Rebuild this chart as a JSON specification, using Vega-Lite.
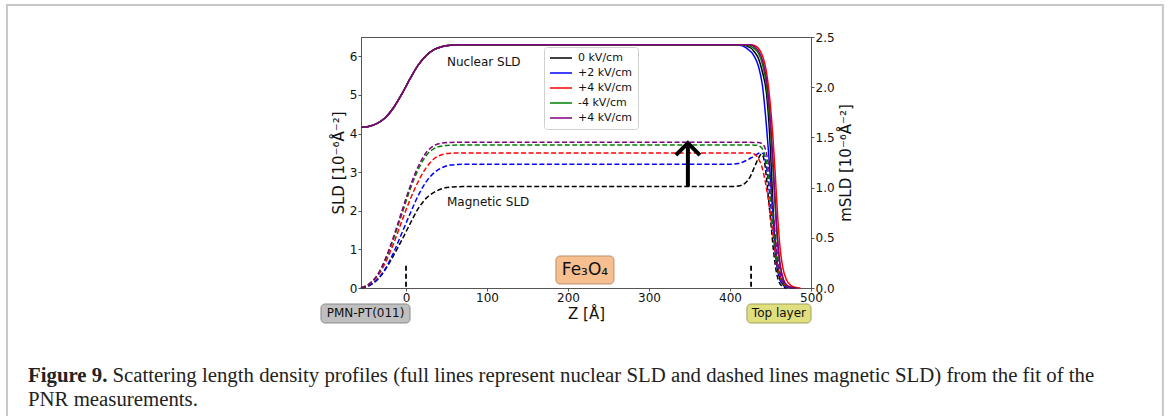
{
"$schema":"https://vega.github.io/schema/vega-lite/v6.json",
"width":450,"height":251,
"autosize":{"type":"none"},
"padding":{"left":361,"top":37,"right":359,"bottom":128},
"background":"white",
"config":{
 "font":"DejaVu Sans",
 "view":{"stroke":"#555","strokeWidth":1},
 "axis":{"grid":false,"domainColor":"#555","tickColor":"#555","labelColor":"#111","titleColor":"#111","labelFont":"DejaVu Sans","titleFont":"DejaVu Sans","labelFontSize":12,"titleFontSize":15,"titleFontWeight":"normal","tickSize":3,"labelPadding":1}
},
"datasets":{
 "nuc":[
  {"s":"0 kV/cm","z":-55.6,"v":4.16},{"s":"0 kV/cm","z":-45,"v":4.19},{"s":"0 kV/cm","z":-35,"v":4.27},{"s":"0 kV/cm","z":-25,"v":4.42},{"s":"0 kV/cm","z":-15,"v":4.68},{"s":"0 kV/cm","z":-5,"v":5.03},{"s":"0 kV/cm","z":5,"v":5.42},{"s":"0 kV/cm","z":15,"v":5.77},{"s":"0 kV/cm","z":25,"v":6.02},{"s":"0 kV/cm","z":35,"v":6.18},{"s":"0 kV/cm","z":45,"v":6.255},{"s":"0 kV/cm","z":55,"v":6.287},{"s":"0 kV/cm","z":65,"v":6.298},{"s":"0 kV/cm","z":80,"v":6.3},
  {"s":"0 kV/cm","z":400,"v":6.3},{"s":"0 kV/cm","z":410,"v":6.3},{"s":"0 kV/cm","z":420,"v":6.27},{"s":"0 kV/cm","z":430,"v":6.12},{"s":"0 kV/cm","z":435,"v":5.95},{"s":"0 kV/cm","z":440,"v":5.6},{"s":"0 kV/cm","z":445,"v":5.05},{"s":"0 kV/cm","z":448,"v":4.3},{"s":"0 kV/cm","z":451,"v":3.1},{"s":"0 kV/cm","z":454,"v":1.7},{"s":"0 kV/cm","z":457,"v":0.75},{"s":"0 kV/cm","z":460,"v":0.35},{"s":"0 kV/cm","z":465,"v":0.1},{"s":"0 kV/cm","z":470,"v":0.03},{"s":"0 kV/cm","z":475,"v":0.01},{"s":"0 kV/cm","z":480,"v":0},
  {"s":"+2 kV/cm","z":-55.6,"v":4.16},{"s":"+2 kV/cm","z":-45,"v":4.19},{"s":"+2 kV/cm","z":-35,"v":4.27},{"s":"+2 kV/cm","z":-25,"v":4.42},{"s":"+2 kV/cm","z":-15,"v":4.68},{"s":"+2 kV/cm","z":-5,"v":5.03},{"s":"+2 kV/cm","z":5,"v":5.42},{"s":"+2 kV/cm","z":15,"v":5.77},{"s":"+2 kV/cm","z":25,"v":6.02},{"s":"+2 kV/cm","z":35,"v":6.18},{"s":"+2 kV/cm","z":45,"v":6.255},{"s":"+2 kV/cm","z":55,"v":6.287},{"s":"+2 kV/cm","z":65,"v":6.298},{"s":"+2 kV/cm","z":80,"v":6.3},
  {"s":"+2 kV/cm","z":400,"v":6.3},{"s":"+2 kV/cm","z":410,"v":6.29},{"s":"+2 kV/cm","z":420,"v":6.22},{"s":"+2 kV/cm","z":430,"v":6.0},{"s":"+2 kV/cm","z":435,"v":5.75},{"s":"+2 kV/cm","z":440,"v":5.25},{"s":"+2 kV/cm","z":445,"v":4.2},{"s":"+2 kV/cm","z":448,"v":3.4},{"s":"+2 kV/cm","z":451,"v":2.5},{"s":"+2 kV/cm","z":454,"v":1.6},{"s":"+2 kV/cm","z":457,"v":0.9},{"s":"+2 kV/cm","z":460,"v":0.45},{"s":"+2 kV/cm","z":465,"v":0.15},{"s":"+2 kV/cm","z":470,"v":0.05},{"s":"+2 kV/cm","z":475,"v":0.015},{"s":"+2 kV/cm","z":480,"v":0},
  {"s":"+4 kV/cm","z":-55.6,"v":4.16},{"s":"+4 kV/cm","z":-45,"v":4.19},{"s":"+4 kV/cm","z":-35,"v":4.27},{"s":"+4 kV/cm","z":-25,"v":4.42},{"s":"+4 kV/cm","z":-15,"v":4.68},{"s":"+4 kV/cm","z":-5,"v":5.03},{"s":"+4 kV/cm","z":5,"v":5.42},{"s":"+4 kV/cm","z":15,"v":5.77},{"s":"+4 kV/cm","z":25,"v":6.02},{"s":"+4 kV/cm","z":35,"v":6.18},{"s":"+4 kV/cm","z":45,"v":6.255},{"s":"+4 kV/cm","z":55,"v":6.287},{"s":"+4 kV/cm","z":65,"v":6.298},{"s":"+4 kV/cm","z":80,"v":6.3},
  {"s":"+4 kV/cm","z":400,"v":6.3},{"s":"+4 kV/cm","z":425,"v":6.3},{"s":"+4 kV/cm","z":430,"v":6.28},{"s":"+4 kV/cm","z":435,"v":6.21},{"s":"+4 kV/cm","z":440,"v":6.02},{"s":"+4 kV/cm","z":445,"v":5.6},{"s":"+4 kV/cm","z":450,"v":4.7},{"s":"+4 kV/cm","z":453,"v":3.9},{"s":"+4 kV/cm","z":456,"v":2.9},{"s":"+4 kV/cm","z":459,"v":1.8},{"s":"+4 kV/cm","z":462,"v":1.0},{"s":"+4 kV/cm","z":465,"v":0.55},{"s":"+4 kV/cm","z":470,"v":0.2},{"s":"+4 kV/cm","z":475,"v":0.07},{"s":"+4 kV/cm","z":480,"v":0.02},{"s":"+4 kV/cm","z":487,"v":0},
  {"s":"-4 kV/cm","z":-55.6,"v":4.16},{"s":"-4 kV/cm","z":-45,"v":4.19},{"s":"-4 kV/cm","z":-35,"v":4.27},{"s":"-4 kV/cm","z":-25,"v":4.42},{"s":"-4 kV/cm","z":-15,"v":4.68},{"s":"-4 kV/cm","z":-5,"v":5.03},{"s":"-4 kV/cm","z":5,"v":5.42},{"s":"-4 kV/cm","z":15,"v":5.77},{"s":"-4 kV/cm","z":25,"v":6.02},{"s":"-4 kV/cm","z":35,"v":6.18},{"s":"-4 kV/cm","z":45,"v":6.255},{"s":"-4 kV/cm","z":55,"v":6.287},{"s":"-4 kV/cm","z":65,"v":6.298},{"s":"-4 kV/cm","z":80,"v":6.3},
  {"s":"-4 kV/cm","z":400,"v":6.3},{"s":"-4 kV/cm","z":420,"v":6.29},{"s":"-4 kV/cm","z":430,"v":6.2},{"s":"-4 kV/cm","z":435,"v":6.08},{"s":"-4 kV/cm","z":440,"v":5.8},{"s":"-4 kV/cm","z":445,"v":5.25},{"s":"-4 kV/cm","z":450,"v":4.1},{"s":"-4 kV/cm","z":453,"v":3.1},{"s":"-4 kV/cm","z":456,"v":2.0},{"s":"-4 kV/cm","z":459,"v":1.1},{"s":"-4 kV/cm","z":462,"v":0.55},{"s":"-4 kV/cm","z":466,"v":0.2},{"s":"-4 kV/cm","z":470,"v":0.07},{"s":"-4 kV/cm","z":475,"v":0.02},{"s":"-4 kV/cm","z":482,"v":0},
  {"s":"+4 kV/cm #2","z":-55.6,"v":4.16},{"s":"+4 kV/cm #2","z":-45,"v":4.19},{"s":"+4 kV/cm #2","z":-35,"v":4.27},{"s":"+4 kV/cm #2","z":-25,"v":4.42},{"s":"+4 kV/cm #2","z":-15,"v":4.68},{"s":"+4 kV/cm #2","z":-5,"v":5.03},{"s":"+4 kV/cm #2","z":5,"v":5.42},{"s":"+4 kV/cm #2","z":15,"v":5.77},{"s":"+4 kV/cm #2","z":25,"v":6.02},{"s":"+4 kV/cm #2","z":35,"v":6.18},{"s":"+4 kV/cm #2","z":45,"v":6.255},{"s":"+4 kV/cm #2","z":55,"v":6.287},{"s":"+4 kV/cm #2","z":65,"v":6.298},{"s":"+4 kV/cm #2","z":80,"v":6.3},
  {"s":"+4 kV/cm #2","z":400,"v":6.3},{"s":"+4 kV/cm #2","z":425,"v":6.3},{"s":"+4 kV/cm #2","z":430,"v":6.25},{"s":"+4 kV/cm #2","z":435,"v":6.14},{"s":"+4 kV/cm #2","z":440,"v":5.9},{"s":"+4 kV/cm #2","z":445,"v":5.4},{"s":"+4 kV/cm #2","z":450,"v":4.3},{"s":"+4 kV/cm #2","z":453,"v":3.3},{"s":"+4 kV/cm #2","z":456,"v":2.2},{"s":"+4 kV/cm #2","z":459,"v":1.2},{"s":"+4 kV/cm #2","z":462,"v":0.6},{"s":"+4 kV/cm #2","z":466,"v":0.22},{"s":"+4 kV/cm #2","z":470,"v":0.08},{"s":"+4 kV/cm #2","z":475,"v":0.02},{"s":"+4 kV/cm #2","z":482,"v":0}
 ],
 "mag":[
  {"s":"0 kV/cm","z":-55.6,"v":0},{"s":"0 kV/cm","z":-45,"v":0.025},{"s":"0 kV/cm","z":-35,"v":0.085},{"s":"0 kV/cm","z":-25,"v":0.19},{"s":"0 kV/cm","z":-15,"v":0.33},{"s":"0 kV/cm","z":-5,"v":0.48},{"s":"0 kV/cm","z":5,"v":0.64},{"s":"0 kV/cm","z":15,"v":0.79},{"s":"0 kV/cm","z":25,"v":0.895},{"s":"0 kV/cm","z":35,"v":0.955},{"s":"0 kV/cm","z":45,"v":0.99},{"s":"0 kV/cm","z":55,"v":1.005},{"s":"0 kV/cm","z":70,"v":1.01},
  {"s":"0 kV/cm","z":400,"v":1.01},{"s":"0 kV/cm","z":410,"v":1.015},{"s":"0 kV/cm","z":418,"v":1.04},{"s":"0 kV/cm","z":425,"v":1.11},{"s":"0 kV/cm","z":430,"v":1.2},{"s":"0 kV/cm","z":435,"v":1.29},{"s":"0 kV/cm","z":439,"v":1.335},{"s":"0 kV/cm","z":442,"v":1.28},{"s":"0 kV/cm","z":445,"v":1.1},{"s":"0 kV/cm","z":448,"v":0.85},{"s":"0 kV/cm","z":451,"v":0.6},{"s":"0 kV/cm","z":454,"v":0.35},{"s":"0 kV/cm","z":457,"v":0.17},{"s":"0 kV/cm","z":460,"v":0.07},{"s":"0 kV/cm","z":464,"v":0.02},{"s":"0 kV/cm","z":470,"v":0},
  {"s":"+2 kV/cm","z":-55.6,"v":0},{"s":"+2 kV/cm","z":-45,"v":0.03},{"s":"+2 kV/cm","z":-35,"v":0.09},{"s":"+2 kV/cm","z":-25,"v":0.2},{"s":"+2 kV/cm","z":-15,"v":0.36},{"s":"+2 kV/cm","z":-5,"v":0.55},{"s":"+2 kV/cm","z":5,"v":0.74},{"s":"+2 kV/cm","z":15,"v":0.92},{"s":"+2 kV/cm","z":25,"v":1.06},{"s":"+2 kV/cm","z":35,"v":1.15},{"s":"+2 kV/cm","z":45,"v":1.2},{"s":"+2 kV/cm","z":55,"v":1.225},{"s":"+2 kV/cm","z":70,"v":1.232},
  {"s":"+2 kV/cm","z":400,"v":1.232},{"s":"+2 kV/cm","z":410,"v":1.24},{"s":"+2 kV/cm","z":420,"v":1.27},{"s":"+2 kV/cm","z":430,"v":1.315},{"s":"+2 kV/cm","z":437,"v":1.345},{"s":"+2 kV/cm","z":441,"v":1.34},{"s":"+2 kV/cm","z":444,"v":1.25},{"s":"+2 kV/cm","z":447,"v":1.08},{"s":"+2 kV/cm","z":450,"v":0.85},{"s":"+2 kV/cm","z":453,"v":0.6},{"s":"+2 kV/cm","z":456,"v":0.36},{"s":"+2 kV/cm","z":459,"v":0.18},{"s":"+2 kV/cm","z":462,"v":0.08},{"s":"+2 kV/cm","z":466,"v":0.025},{"s":"+2 kV/cm","z":472,"v":0},
  {"s":"+4 kV/cm","z":-55.6,"v":0},{"s":"+4 kV/cm","z":-45,"v":0.04},{"s":"+4 kV/cm","z":-35,"v":0.12},{"s":"+4 kV/cm","z":-25,"v":0.26},{"s":"+4 kV/cm","z":-15,"v":0.45},{"s":"+4 kV/cm","z":-5,"v":0.67},{"s":"+4 kV/cm","z":5,"v":0.88},{"s":"+4 kV/cm","z":15,"v":1.06},{"s":"+4 kV/cm","z":25,"v":1.2},{"s":"+4 kV/cm","z":35,"v":1.29},{"s":"+4 kV/cm","z":45,"v":1.33},{"s":"+4 kV/cm","z":55,"v":1.343},{"s":"+4 kV/cm","z":70,"v":1.345},
  {"s":"+4 kV/cm","z":400,"v":1.345},{"s":"+4 kV/cm","z":425,"v":1.345},{"s":"+4 kV/cm","z":430,"v":1.335},{"s":"+4 kV/cm","z":435,"v":1.29},{"s":"+4 kV/cm","z":440,"v":1.19},{"s":"+4 kV/cm","z":444,"v":1.04},{"s":"+4 kV/cm","z":448,"v":0.84},{"s":"+4 kV/cm","z":452,"v":0.6},{"s":"+4 kV/cm","z":456,"v":0.36},{"s":"+4 kV/cm","z":460,"v":0.17},{"s":"+4 kV/cm","z":464,"v":0.07},{"s":"+4 kV/cm","z":468,"v":0.025},{"s":"+4 kV/cm","z":474,"v":0},
  {"s":"-4 kV/cm","z":-55.6,"v":0},{"s":"-4 kV/cm","z":-45,"v":0.045},{"s":"-4 kV/cm","z":-35,"v":0.13},{"s":"-4 kV/cm","z":-25,"v":0.29},{"s":"-4 kV/cm","z":-15,"v":0.5},{"s":"-4 kV/cm","z":-5,"v":0.74},{"s":"-4 kV/cm","z":5,"v":0.98},{"s":"-4 kV/cm","z":15,"v":1.18},{"s":"-4 kV/cm","z":25,"v":1.32},{"s":"-4 kV/cm","z":35,"v":1.39},{"s":"-4 kV/cm","z":45,"v":1.415},{"s":"-4 kV/cm","z":55,"v":1.422},{"s":"-4 kV/cm","z":70,"v":1.424},
  {"s":"-4 kV/cm","z":400,"v":1.424},{"s":"-4 kV/cm","z":432,"v":1.423},{"s":"-4 kV/cm","z":437,"v":1.41},{"s":"-4 kV/cm","z":441,"v":1.37},{"s":"-4 kV/cm","z":445,"v":1.25},{"s":"-4 kV/cm","z":448,"v":1.07},{"s":"-4 kV/cm","z":451,"v":0.83},{"s":"-4 kV/cm","z":454,"v":0.57},{"s":"-4 kV/cm","z":457,"v":0.34},{"s":"-4 kV/cm","z":460,"v":0.18},{"s":"-4 kV/cm","z":464,"v":0.07},{"s":"-4 kV/cm","z":468,"v":0.025},{"s":"-4 kV/cm","z":474,"v":0},
  {"s":"+4 kV/cm #2","z":-55.6,"v":0},{"s":"+4 kV/cm #2","z":-45,"v":0.045},{"s":"+4 kV/cm #2","z":-35,"v":0.135},{"s":"+4 kV/cm #2","z":-25,"v":0.3},{"s":"+4 kV/cm #2","z":-15,"v":0.52},{"s":"+4 kV/cm #2","z":-5,"v":0.77},{"s":"+4 kV/cm #2","z":5,"v":1.01},{"s":"+4 kV/cm #2","z":15,"v":1.21},{"s":"+4 kV/cm #2","z":25,"v":1.35},{"s":"+4 kV/cm #2","z":35,"v":1.42},{"s":"+4 kV/cm #2","z":45,"v":1.445},{"s":"+4 kV/cm #2","z":55,"v":1.45},{"s":"+4 kV/cm #2","z":70,"v":1.451},
  {"s":"+4 kV/cm #2","z":400,"v":1.451},{"s":"+4 kV/cm #2","z":435,"v":1.45},{"s":"+4 kV/cm #2","z":439,"v":1.44},{"s":"+4 kV/cm #2","z":443,"v":1.4},{"s":"+4 kV/cm #2","z":446,"v":1.3},{"s":"+4 kV/cm #2","z":449,"v":1.12},{"s":"+4 kV/cm #2","z":452,"v":0.87},{"s":"+4 kV/cm #2","z":455,"v":0.6},{"s":"+4 kV/cm #2","z":458,"v":0.36},{"s":"+4 kV/cm #2","z":461,"v":0.19},{"s":"+4 kV/cm #2","z":465,"v":0.07},{"s":"+4 kV/cm #2","z":469,"v":0.025},{"s":"+4 kV/cm #2","z":475,"v":0}
 ],
 "frame":[{"z":-492.7,"z2":934.5,"v":7.329,"v2":-3.677}],
 "feBox":[{"z":185.1,"z2":256.7,"v":0.829,"v2":0.104}],
 "pmnBox":[{"z":-105,"z2":4.9,"v":-0.414,"v2":-0.906}],
 "topBox":[{"z":420.9,"z2":500,"v":-0.414,"v2":-0.906}],
 "markers":[{"z":0,"v":0.03,"v2":0.6},{"z":426,"v":0.03,"v2":0.6}],
 "labels":[{"z":50.6,"v":5.853,"t":"Nuclear SLD"},{"z":50.6,"v":2.227,"t":"Magnetic SLD"}],
 "feText":[{"z":220.9,"v":0.466,"t":"Fe₃O₄"}],
 "boxText":[{"z":-50,"v":-0.66,"t":"PMN-PT(011)"},{"z":460.4,"v":-0.66,"t":"Top layer"}],
 "capBold":[{"z":-466.7,"v":-2.434,"t":"Figure 9."}],
 "capText":[{"z":-362.5,"v":-2.434,"t":"Scattering length density profiles (full lines represent nuclear SLD and dashed lines magnetic SLD) from the fit of the"},{"z":-466.7,"v":-3.056,"t":"PNR measurements."}],
 "shaft":[{"z":348,"v":1.01,"v2":1.43}],
 "head":[{"z":348,"v":1.384}]
},
"encoding":{"x":{"field":"z","type":"quantitative","scale":{"domain":[-55.6,500],"nice":false,"zero":false},"axis":{"values":[0,100,200,300,400,500],"title":"Z [Å]","titlePadding":3,"labelFlush":false}}},
"layer":[
 {"encoding":{"y":{"field":"v","type":"quantitative","scale":{"domain":[0,6.5],"nice":false,"zero":false},"axis":{"orient":"left","values":[0,1,2,3,4,5,6],"title":"SLD [10⁻⁶Å⁻²]","titlePadding":3}}},
  "layer":[
   {"data":{"name":"frame"},"mark":{"type":"rect","filled":false,"stroke":"#c8c8c8","strokeWidth":2},"encoding":{"x2":{"field":"z2"},"y2":{"field":"v2"}}},
   {"data":{"name":"nuc"},"mark":{"type":"line","interpolate":"monotone","strokeWidth":1.5},
    "encoding":{"color":{"field":"s","type":"nominal","sort":null,"scale":{"domain":["0 kV/cm","+2 kV/cm","+4 kV/cm","-4 kV/cm","+4 kV/cm #2"],"range":["#000000","#0000ff","#ff0000","#008000","#800080"]},
     "legend":{"orient":"none","legendX":183,"legendY":10,"title":null,"symbolType":"stroke","symbolSize":484,"symbolStrokeWidth":1.5,"labelFontSize":11,"labelFont":"DejaVu Sans","labelColor":"#111","labelOffset":5,"fillColor":"rgba(255,255,255,0.85)","strokeColor":"#d0d0d0","padding":5,"cornerRadius":3,"rowPadding":3,"clipHeight":12,"labelExpr":"replace(datum.label, ' #2', '')"}}}},
   {"data":{"name":"markers"},"mark":{"type":"rule","color":"#000","strokeWidth":1.8,"strokeDash":[5,3]},"encoding":{"y2":{"field":"v2"}}},
   {"data":{"name":"labels"},"mark":{"type":"text","align":"left","baseline":"middle","fontSize":12,"font":"DejaVu Sans","color":"#111"},"encoding":{"text":{"field":"t"}}},
   {"data":{"name":"feBox"},"mark":{"type":"rect","fill":"#f7bf90","stroke":"#b8906c","strokeWidth":1,"cornerRadius":4},"encoding":{"x2":{"field":"z2"},"y2":{"field":"v2"}}},
   {"data":{"name":"pmnBox"},"mark":{"type":"rect","fill":"#bfbfbf","stroke":"#8a8a8a","strokeWidth":1,"cornerRadius":4},"encoding":{"x2":{"field":"z2"},"y2":{"field":"v2"}}},
   {"data":{"name":"topBox"},"mark":{"type":"rect","fill":"#dfdf7f","stroke":"#a0a060","strokeWidth":1,"cornerRadius":4},"encoding":{"x2":{"field":"z2"},"y2":{"field":"v2"}}},
   {"data":{"name":"feText"},"mark":{"type":"text","align":"center","baseline":"middle","fontSize":17,"font":"DejaVu Sans","color":"#111"},"encoding":{"text":{"field":"t"}}},
   {"data":{"name":"boxText"},"mark":{"type":"text","align":"center","baseline":"middle","fontSize":12,"font":"DejaVu Sans","color":"#111"},"encoding":{"text":{"field":"t"}}},
   {"data":{"name":"capBold"},"mark":{"type":"text","align":"left","baseline":"alphabetic","fontSize":20.8,"font":"Liberation Serif","fontWeight":"bold","color":"#222"},"encoding":{"text":{"field":"t"}}},
   {"data":{"name":"capText"},"mark":{"type":"text","align":"left","baseline":"alphabetic","fontSize":20.8,"font":"Liberation Serif","color":"#222"},"encoding":{"text":{"field":"t"}}}
  ]},
 {"encoding":{"y":{"field":"v","type":"quantitative","scale":{"domain":[0,2.5],"nice":false,"zero":false},"axis":{"orient":"right","values":[0,0.5,1,1.5,2,2.5],"format":".1f","title":"mSLD [10⁻⁶Å⁻²]","titleAngle":270,"titleBaseline":"top","titlePadding":4}}},
  "layer":[
   {"data":{"name":"mag"},"mark":{"type":"line","interpolate":"monotone","strokeWidth":1.5,"strokeDash":[5,2.5]},
    "encoding":{"color":{"field":"s","type":"nominal","sort":null,"scale":{"domain":["0 kV/cm","+2 kV/cm","+4 kV/cm","-4 kV/cm","+4 kV/cm #2"],"range":["#000000","#0000ff","#ff0000","#008000","#800080"]},"legend":null}}},
   {"data":{"name":"shaft"},"mark":{"type":"rule","color":"#000","strokeWidth":4},"encoding":{"y2":{"field":"v2"}}},
   {"data":{"name":"head"},"mark":{"type":"point","shape":"M-1,0.5L0,-0.5L1,0.5","size":576,"filled":false,"stroke":"#000","strokeWidth":4,"opacity":1,"strokeJoin":"miter"}}
  ]}
],
"resolve":{"scale":{"y":"independent","color":"independent"}}
}
